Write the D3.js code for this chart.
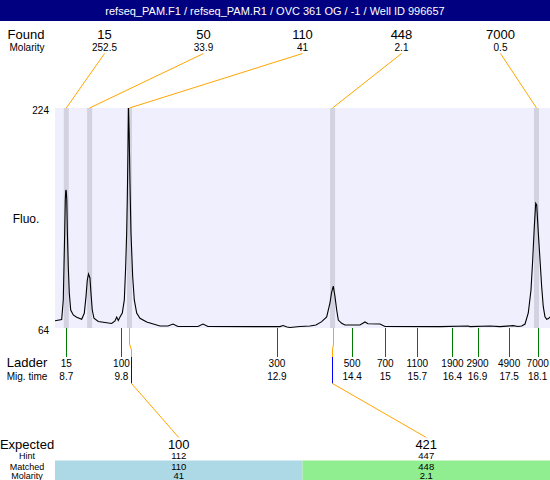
<!DOCTYPE html>
<html>
<head>
<meta charset="utf-8">
<script src="https://cdn.jsdelivr.net/npm/d3@7"></script>
<style>
  html, body { margin: 0; padding: 0; background: #fff; }
  svg { display: block; font-family: "Liberation Sans", Arial, sans-serif; }
</style>
</head>
<body>
<svg id="chart" width="550" height="480"></svg>
<script>
// ---------------- data ----------------
const titleText = "refseq_PAM.F1 / refseq_PAM.R1 / OVC 361 OG / -1 / Well ID 996657";

const foundSizes    = ["15", "50", "110", "448", "7000"];
const foundMolarity = ["252.5", "33.9", "41", "2.1", "0.5"];
const foundTimes    = [8.70, 9.165, 9.96, 14.01, 18.076];

const ladderSizes      = ["15", "100", "300", "500", "700", "1100", "1900", "2900", "4900", "7000"];
const ladderTimes      = [8.70, 9.80, 12.90, 14.40, 15.06, 15.70, 16.40, 16.90, 17.53, 18.10];
const ladderTimeLabels = ["8.7", "9.8", "12.9", "14.4", "15", "15.7", "16.4", "16.9", "17.5", "18.1"];

const expectedSizes   = ["100", "421"];
const hintSizes       = ["112", "447"];
const matchedSizes    = ["110", "448"];
const matchedMolarity = ["41", "2.1"];
const matchedFound    = [2, 3];        // index into found peaks
const hintTimes       = [10.0, 14.0];

const yTickValues = [64, 224];
const timeDomain  = [8.475, 18.345];

const traceTime = [8.475, 8.608, 8.640, 8.654, 8.668, 8.680, 8.690, 8.700, 8.710, 8.722,
  8.740, 8.760, 8.788, 8.839, 8.907, 9.007, 9.059, 9.093, 9.119, 9.143,
  9.172, 9.192, 9.218, 9.252, 9.338, 9.472, 9.605, 9.671, 9.705, 9.737,
  9.771, 9.817, 9.857, 9.884, 9.904, 9.916, 9.930, 9.940, 9.954, 9.970,
  9.990, 10.024, 10.056, 10.104, 10.169, 10.303, 10.568, 10.728, 10.828, 10.927,
  11.326, 11.426, 11.525, 12.961, 13.021, 13.101, 13.161, 13.360, 13.559, 13.679,
  13.793, 13.892, 13.958, 13.988, 14.024, 14.058, 14.092, 14.124, 14.191, 14.257,
  14.556, 14.656, 14.716, 14.955, 15.055, 16.152, 16.710, 16.750, 17.149, 17.348,
  17.607, 17.707, 17.781, 17.847, 17.912, 17.966, 18.000, 18.032, 18.060, 18.080,
  18.112, 18.146, 18.179, 18.211, 18.245, 18.279, 18.315, 18.345];
const traceFluo = [69.3, 70.2, 84.4, 108.6, 133.1, 157.1, 164.4, 163.6, 157.1, 133.1,
  108.6, 89.5, 77.1, 73.5, 71.8, 70.3, 74.7, 86.8, 98.9, 103.3,
  100.4, 89.5, 77.1, 71.1, 68.7, 68.0, 67.3, 69.1, 72.0, 69.5,
  72.0, 74.9, 84.4, 108.6, 133.1, 157.1, 193.5, 226.0, 205.8, 169.5,
  133.1, 101.3, 84.4, 74.9, 71.1, 68.4, 65.5, 65.5, 66.9, 65.1,
  65.1, 66.9, 65.1, 65.0, 65.8, 64.7, 64.4, 65.1, 65.5, 66.2,
  68.6, 72.0, 82.2, 89.5, 94.5, 86.8, 77.1, 69.8, 67.4, 66.2,
  66.2, 68.4, 67.1, 66.9, 65.1, 65.0, 65.5, 65.0, 65.5, 65.0,
  65.7, 65.1, 65.5, 66.9, 74.9, 91.6, 113.5, 137.7, 154.7, 153.5,
  133.1, 113.5, 94.0, 79.5, 72.2, 70.3, 70.9, 72.0];

// ---------------- layout ----------------
const W = 550, H = 480;
const plot = { left: 55, right: 550, top: 108, bottom: 328 };
const labelCx = 27;

const svg = d3.select("#chart");

const x = d3.scaleLinear().domain(timeDomain).range([plot.left, plot.right]);
const y = d3.scaleLinear().domain([yTickValues[0], yTickValues[1]]).range([plot.bottom, plot.top]);

const topCols = d3.scaleBand().domain(d3.range(foundSizes.length)).range([plot.left, plot.right]);
const botCols = d3.scaleBand().domain(d3.range(expectedSizes.length)).range([plot.left, plot.right]);

// title bar
svg.append("rect").attr("x", 0).attr("y", 0).attr("width", W).attr("height", 21).attr("fill", "#000080");
svg.append("text").attr("x", W / 2).attr("y", 14.5).attr("text-anchor", "middle")
  .attr("fill", "#fff").attr("font-size", 11).text(titleText);

// plot background
svg.append("rect").attr("x", plot.left).attr("y", plot.top)
  .attr("width", plot.right - plot.left).attr("height", plot.bottom - plot.top)
  .attr("fill", "#efeffd");

// peak bands
svg.append("g").selectAll("rect").data(foundTimes).join("rect")
  .attr("x", d => x(d) - 2.5).attr("y", plot.top)
  .attr("width", 5).attr("height", plot.bottom - plot.top)
  .attr("fill", "#d2d2e0");

// clip
svg.append("clipPath").attr("id", "clip").append("rect")
  .attr("x", plot.left).attr("y", plot.top)
  .attr("width", plot.right - plot.left).attr("height", plot.bottom - plot.top);

// trace
const traceData = traceTime.map((t, i) => [t, traceFluo[i]]);
svg.append("path").datum(traceData)
  .attr("clip-path", "url(#clip)")
  .attr("fill", "none").attr("stroke", "#000").attr("stroke-width", 1.1)
  .attr("d", d3.line().x(d => x(d[0])).y(d => y(d[1])));

// y labels
svg.append("g").selectAll("text").data(yTickValues).join("text")
  .attr("x", 49).attr("y", d => y(d) + 5.5).attr("text-anchor", "end")
  .attr("font-size", 10).text(d => d);
svg.append("text").attr("x", 26).attr("y", 223).attr("text-anchor", "middle")
  .attr("font-size", 12).text("Fluo.");

// top labels
svg.append("text").attr("x", labelCx - 1).attr("y", 39).attr("text-anchor", "middle")
  .attr("font-size", 13).text("Found");
svg.append("text").attr("x", labelCx).attr("y", 51).attr("text-anchor", "middle")
  .attr("font-size", 10).text("Molarity");

const topG = svg.append("g");
foundSizes.forEach((s, i) => {
  const cx = topCols(i) + topCols.bandwidth() / 2;
  topG.append("text").attr("x", cx).attr("y", 39).attr("text-anchor", "middle")
    .attr("font-size", 13).text(s);
  topG.append("text").attr("x", cx).attr("y", 51).attr("text-anchor", "middle")
    .attr("font-size", 10).text(foundMolarity[i]);
  topG.append("line")
    .attr("x1", x(foundTimes[i])).attr("y1", plot.top)
    .attr("x2", cx).attr("y2", 53.5)
    .attr("stroke", "#ffa500").attr("stroke-width", 1);
});

// ladder
svg.append("text").attr("x", labelCx).attr("y", 367).attr("text-anchor", "middle")
  .attr("font-size", 13).text("Ladder");
svg.append("text").attr("x", labelCx).attr("y", 380).attr("text-anchor", "middle")
  .attr("font-size", 10).text("Mig. time");

const ladG = svg.append("g");
ladderTimes.forEach((t, i) => {
  const lx = Math.round(x(t)) + 0.5;
  ladG.append("line").attr("x1", lx).attr("x2", lx).attr("y1", plot.bottom).attr("y2", 357)
    .attr("stroke", "#007a00").attr("stroke-width", 1);
  ladG.append("text").attr("x", x(t)).attr("y", 367).attr("text-anchor", "middle")
    .attr("font-size", 10).text(ladderSizes[i]);
  ladG.append("text").attr("x", x(t)).attr("y", 380).attr("text-anchor", "middle")
    .attr("font-size", 10).text(ladderTimeLabels[i]);
});

// matched connectors
const conG = svg.append("g");
matchedFound.forEach((fi, i) => {
  const fx = Math.round(x(foundTimes[fi])) + 0.5;
  const hx = Math.round(x(hintTimes[i])) + 0.5;
  const cx = botCols(i) + botCols.bandwidth() / 2;
  conG.append("path")
    .attr("d", `M${fx},${plot.bottom}V344L${hx},350V357`)
    .attr("fill", "none").attr("stroke", "#ffa500");
  conG.append("line").attr("x1", hx).attr("x2", hx).attr("y1", 357).attr("y2", 383.5)
    .attr("stroke", "#0000ff");
  conG.append("line").attr("x1", hx).attr("y1", 383.5).attr("x2", cx).attr("y2", 437.5)
    .attr("stroke", "#ffa500");
});

// expected / matched table
const matchFill = ["#add8e6", "#90ee90"];
const tblG = svg.append("g");
expectedSizes.forEach((s, i) => {
  tblG.append("rect").attr("x", botCols(i)).attr("y", 460.5)
    .attr("width", botCols.bandwidth()).attr("height", H - 460.5)
    .attr("fill", matchFill[i]);
});
const rowY = { exp: 448.5, hint: 459, match: 469.5, mol: 479.2 };
[["Expected", rowY.exp, 13], ["Hint", rowY.hint, 9], ["Matched", rowY.match, 9], ["Molarity", rowY.mol, 9]]
  .forEach(([t, yy, fs]) => {
    tblG.append("text").attr("x", labelCx).attr("y", yy).attr("text-anchor", "middle")
      .attr("font-size", fs).text(t);
  });
expectedSizes.forEach((s, i) => {
  const cx = botCols(i) + botCols.bandwidth() / 2;
  tblG.append("text").attr("x", cx).attr("y", rowY.exp).attr("text-anchor", "middle").attr("font-size", 13).text(s);
  tblG.append("text").attr("x", cx).attr("y", rowY.hint).attr("text-anchor", "middle").attr("font-size", 9.5).text(hintSizes[i]);
  tblG.append("text").attr("x", cx).attr("y", rowY.match).attr("text-anchor", "middle").attr("font-size", 9.5).text(matchedSizes[i]);
  tblG.append("text").attr("x", cx).attr("y", rowY.mol).attr("text-anchor", "middle").attr("font-size", 9.5).text(matchedMolarity[i]);
});
</script>
</body>
</html>
